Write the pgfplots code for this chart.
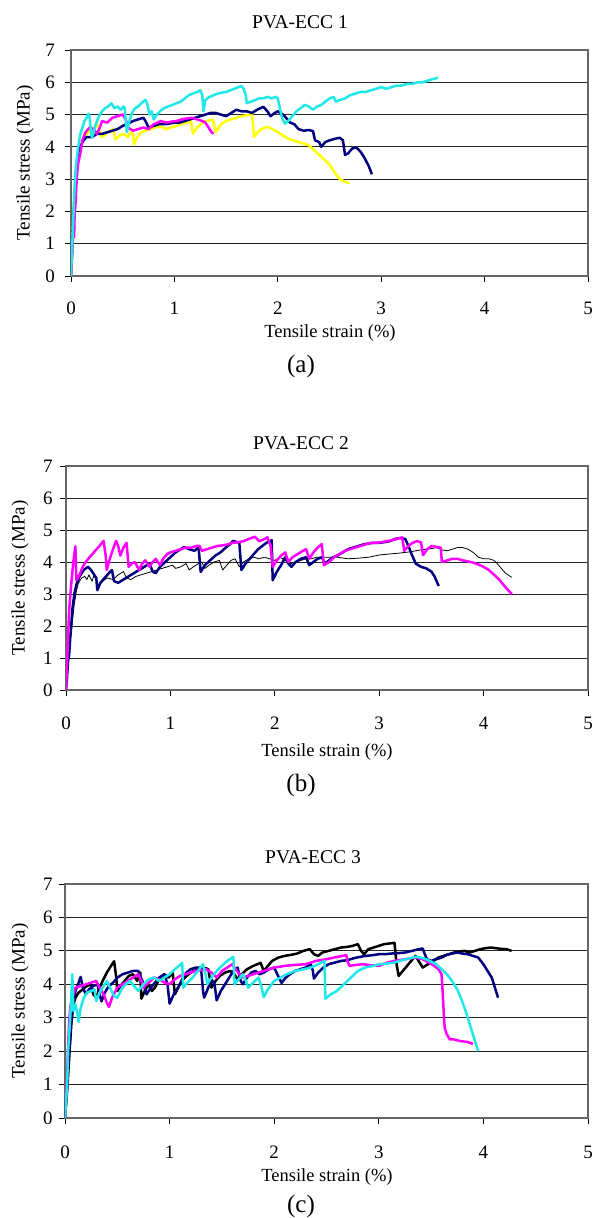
\documentclass[border=0pt]{standalone}
\usepackage{fontspec}
\setmainfont{Liberation Serif}
\usepackage{pgfplots}
\pgfplotsset{compat=1.18}
\definecolor{navyc}{HTML}{000080}
\definecolor{magc}{HTML}{FF00FF}
\definecolor{yelc}{HTML}{FFFF00}
\definecolor{cyac}{HTML}{20E8E8}
\newcommand\fs[1]{\fontsize{#1}{#1}\selectfont}

\pgfplotsset{
  ecc/.style={
    scale only axis,
    anchor=south west,
    xmin=0, xmax=5, ymin=0, ymax=7,
    xtick={0,1,2,3,4,5}, ytick={0,1,2,3,4,5,6,7},
    ymajorgrids,
    grid style={black!85, line width=0.9pt},
    axis line style={black!60, line width=1.3pt},
    tick align=outside,
    xtick pos=left, ytick pos=left,
    major tick length=6pt,
    tick style={black, line width=0.9pt},
    /pgf/number format/assume math mode=true,
    tick label style={font=\fs{19}},
    xticklabel style={anchor=center, yshift=-26pt},
    yticklabel style={anchor=center, xshift=-13pt},
    every axis plot/.append style={line width=2.5pt, line join=round},
  },
}

\begin{document}
\begin{tikzpicture}[x=1pt,y=1pt]
\useasboundingbox (0,0) rectangle (598,1218);

% ---------------- (a) ----------------
\begin{axis}[ecc, at={(71pt,942pt)}, width=517pt, height=226pt,
  yticklabel style={xshift=-2pt}]
\addplot[yelc] coordinates {
(0,0) (0.01,0.8) (0.02,1.6) (0.03,2.4) (0.05,3.2) (0.07,3.7) (0.1,4.1) (0.14,4.35) (0.18,4.5) (0.22,4.6) (0.26,4.67) (0.28,4.45) (0.3,4.3) (0.34,4.4) (0.38,4.5) (0.41,4.55) (0.43,4.23) (0.47,4.35) (0.51,4.4) (0.55,4.3) (0.58,4.45) (0.6,4.4) (0.61,4.08) (0.64,4.3) (0.68,4.45) (0.72,4.5) (0.77,4.55) (0.82,4.6) (0.87,4.62) (0.92,4.55) (0.97,4.6) (1.02,4.65) (1.07,4.7) (1.12,4.75) (1.16,4.8) (1.17,4.6) (1.18,4.41) (1.22,4.6) (1.27,4.75) (1.32,4.8) (1.37,4.85) (1.39,4.6) (1.4,4.45) (1.45,4.7) (1.5,4.8) (1.55,4.85) (1.6,4.9) (1.65,4.95) (1.7,4.98) (1.75,5.0) (1.76,4.7) (1.77,4.31) (1.82,4.5) (1.86,4.58) (1.9,4.62) (1.95,4.55) (2.0,4.45) (2.05,4.35) (2.1,4.25) (2.15,4.2) (2.2,4.15) (2.25,4.1) (2.3,4.05) (2.35,3.9) (2.4,3.75) (2.45,3.6) (2.5,3.45) (2.55,3.2) (2.6,3.0) (2.65,2.92) (2.69,2.87)
};
\addplot[navyc] coordinates {
(0,0) (0.01,0.7) (0.02,1.5) (0.03,2.2) (0.04,2.8) (0.05,3.3) (0.07,3.7) (0.09,4.0) (0.12,4.2) (0.15,4.3) (0.2,4.3) (0.25,4.4) (0.3,4.4) (0.35,4.45) (0.4,4.5) (0.45,4.55) (0.5,4.65) (0.55,4.72) (0.6,4.8) (0.65,4.85) (0.7,4.9) (0.72,4.8) (0.75,4.6) (0.8,4.65) (0.85,4.7) (0.9,4.7) (0.95,4.72) (1.0,4.75) (1.05,4.75) (1.1,4.8) (1.15,4.85) (1.2,4.9) (1.25,4.95) (1.3,5.0) (1.35,5.05) (1.4,5.05) (1.45,5.0) (1.5,4.95) (1.55,5.05) (1.6,5.15) (1.65,5.1) (1.7,5.1) (1.75,5.05) (1.8,5.15) (1.86,5.24) (1.9,5.1) (1.93,4.95) (1.97,5.05) (2.0,5.1) (2.05,5.0) (2.08,4.9) (2.12,4.75) (2.16,4.7) (2.2,4.55) (2.25,4.5) (2.3,4.52) (2.34,4.49) (2.36,4.2) (2.4,4.15) (2.42,4.0) (2.46,4.15) (2.5,4.2) (2.55,4.25) (2.6,4.28) (2.63,4.2) (2.65,3.75) (2.68,3.8) (2.72,3.95) (2.76,3.98) (2.8,3.85) (2.84,3.65) (2.88,3.4) (2.91,3.15)
};
\addplot[magc] coordinates {
(0,0) (0.01,0.6) (0.02,1.3) (0.03,1.2) (0.035,1.9) (0.045,2.3) (0.05,2.7) (0.06,3.2) (0.07,3.5) (0.09,3.8) (0.11,4.2) (0.14,4.45) (0.18,4.6) (0.22,4.55) (0.25,4.4) (0.28,4.6) (0.3,4.8) (0.35,4.75) (0.4,4.9) (0.45,4.95) (0.5,5.0) (0.53,4.85) (0.55,4.6) (0.6,4.5) (0.65,4.55) (0.7,4.6) (0.75,4.55) (0.8,4.7) (0.87,4.8) (0.92,4.75) (0.97,4.78) (1.02,4.8) (1.07,4.85) (1.12,4.88) (1.17,4.9) (1.22,4.85) (1.27,4.8) (1.3,4.75) (1.33,4.6) (1.36,4.45) (1.38,4.41)
};
\addplot[cyac] coordinates {
(0,0) (0.01,0.8) (0.02,1.6) (0.03,2.4) (0.04,3.0) (0.05,3.5) (0.07,4.0) (0.09,4.4) (0.11,4.6) (0.13,4.8) (0.15,4.9) (0.17,5.03) (0.18,4.9) (0.19,4.6) (0.2,4.3) (0.21,4.35) (0.24,4.7) (0.27,4.95) (0.3,5.1) (0.33,5.2) (0.36,5.25) (0.39,5.35) (0.42,5.2) (0.45,5.25) (0.48,5.15) (0.51,5.25) (0.52,5.2) (0.53,4.8) (0.54,4.46) (0.56,4.75) (0.59,5.05) (0.62,5.2) (0.65,5.25) (0.68,5.35) (0.72,5.46) (0.74,5.3) (0.76,5.0) (0.78,5.1) (0.8,4.85) (0.83,5.0) (0.86,5.1) (0.9,5.2) (0.94,5.25) (0.98,5.3) (1.02,5.35) (1.06,5.4) (1.1,5.5) (1.14,5.6) (1.18,5.65) (1.22,5.7) (1.25,5.75) (1.27,5.6) (1.28,5.1) (1.3,5.45) (1.34,5.55) (1.38,5.6) (1.42,5.65) (1.46,5.68) (1.5,5.7) (1.54,5.75) (1.58,5.8) (1.62,5.85) (1.65,5.88) (1.67,5.8) (1.69,5.6) (1.7,5.35) (1.74,5.4) (1.78,5.45) (1.82,5.5) (1.86,5.5) (1.9,5.55) (1.94,5.5) (1.98,5.55) (2.0,5.5) (2.02,5.2) (2.04,4.9) (2.07,4.72) (2.1,4.8) (2.14,4.95) (2.18,5.1) (2.22,5.2) (2.26,5.3) (2.3,5.25) (2.34,5.15) (2.38,5.25) (2.42,5.3) (2.46,5.4) (2.5,5.5) (2.54,5.55) (2.56,5.4) (2.6,5.45) (2.65,5.5) (2.7,5.6) (2.75,5.65) (2.8,5.7) (2.85,5.7) (2.9,5.75) (2.95,5.8) (3.0,5.85) (3.05,5.8) (3.1,5.85) (3.15,5.9) (3.2,5.9) (3.25,5.95) (3.3,5.95) (3.35,6.0) (3.4,6.0) (3.45,6.05) (3.5,6.1) (3.55,6.14)
};
\end{axis}

% ---------------- (b) ----------------
\begin{axis}[ecc, at={(66pt,528pt)}, width=522pt, height=224pt,
  xticklabel style={yshift=-1pt}, yticklabel style={xshift=1pt}]
\addplot[black, line width=0.8pt] coordinates {
(0,0) (0.01,0.5) (0.02,1.0) (0.04,1.5) (0.06,2.1) (0.08,2.7) (0.1,3.1) (0.12,3.35) (0.15,3.5) (0.18,3.55) (0.2,3.45) (0.22,3.6) (0.25,3.4) (0.27,3.6) (0.29,3.45) (0.3,3.1) (0.33,3.35) (0.37,3.45) (0.4,3.5) (0.45,3.45) (0.5,3.6) (0.55,3.7) (0.58,3.5) (0.62,3.45) (0.67,3.55) (0.72,3.6) (0.77,3.65) (0.82,3.7) (0.87,3.75) (0.92,3.8) (0.97,3.85) (1.02,3.9) (1.05,3.8) (1.1,3.85) (1.15,3.95) (1.18,3.75) (1.22,3.85) (1.27,3.95) (1.3,4.0) (1.33,3.8) (1.37,3.9) (1.42,4.0) (1.47,4.05) (1.5,3.75) (1.54,3.9) (1.58,4.05) (1.62,4.1) (1.66,3.85) (1.7,4.0) (1.75,4.1) (1.8,4.15) (1.85,4.1) (1.9,4.15) (1.95,4.1) (2.0,4.05) (2.05,4.15) (2.1,4.05) (2.15,3.95) (2.2,4.0) (2.25,4.05) (2.3,4.1) (2.35,4.1) (2.4,4.15) (2.5,4.15) (2.6,4.15) (2.7,4.1) (2.8,4.12) (2.9,4.15) (3.0,4.22) (3.1,4.25) (3.2,4.28) (3.3,4.32) (3.4,4.38) (3.5,4.42) (3.55,4.45) (3.6,4.38) (3.65,4.35) (3.7,4.4) (3.75,4.45) (3.8,4.45) (3.85,4.4) (3.9,4.3) (3.95,4.15) (4.0,4.1) (4.05,4.1) (4.1,4.05) (4.13,3.95) (4.17,3.8) (4.21,3.65) (4.27,3.52)
};
\addplot[navyc] coordinates {
(0,0) (0.01,0.4) (0.02,0.9) (0.03,1.1) (0.04,1.6) (0.05,2.0) (0.06,2.5) (0.08,3.0) (0.1,3.3) (0.13,3.55) (0.17,3.75) (0.21,3.85) (0.24,3.75) (0.27,3.6) (0.29,3.5) (0.3,3.12) (0.33,3.35) (0.37,3.5) (0.41,3.65) (0.44,3.75) (0.46,3.4) (0.5,3.35) (0.55,3.45) (0.6,3.55) (0.65,3.65) (0.7,3.75) (0.75,3.85) (0.8,3.95) (0.83,3.7) (0.86,3.65) (0.9,3.85) (0.95,4.0) (1.0,4.15) (1.05,4.3) (1.1,4.4) (1.13,4.47) (1.18,4.4) (1.23,4.35) (1.27,4.45) (1.29,3.69) (1.33,3.9) (1.38,4.05) (1.43,4.2) (1.48,4.3) (1.53,4.45) (1.57,4.55) (1.6,4.66) (1.64,4.62) (1.66,4.6) (1.68,3.75) (1.72,3.95) (1.76,4.1) (1.8,4.25) (1.84,4.4) (1.88,4.5) (1.92,4.6) (1.97,4.68) (1.98,3.43) (2.02,3.7) (2.06,3.9) (2.1,4.15) (2.13,3.95) (2.16,3.85) (2.2,4.0) (2.25,4.1) (2.3,4.15) (2.33,3.9) (2.37,4.0) (2.41,4.1) (2.45,4.15) (2.48,3.95) (2.52,4.05) (2.56,4.15) (2.6,4.2) (2.65,4.3) (2.7,4.4) (2.75,4.45) (2.8,4.5) (2.85,4.55) (2.9,4.58) (2.95,4.6) (3.0,4.6) (3.05,4.62) (3.1,4.65) (3.15,4.72) (3.2,4.75) (3.25,4.72) (3.28,4.5) (3.31,4.25) (3.35,3.95) (3.4,3.85) (3.45,3.8) (3.5,3.7) (3.53,3.55) (3.55,3.4) (3.57,3.25)
};
\addplot[magc] coordinates {
(0,0) (0.01,0.8) (0.02,1.6) (0.03,2.5) (0.05,3.3) (0.07,4.0) (0.09,4.49) (0.1,3.43) (0.13,3.6) (0.16,3.85) (0.2,4.05) (0.24,4.2) (0.28,4.35) (0.32,4.5) (0.36,4.66) (0.38,4.2) (0.39,3.75) (0.42,4.1) (0.45,4.4) (0.48,4.66) (0.5,4.5) (0.52,4.2) (0.55,4.45) (0.58,4.6) (0.6,3.85) (0.63,3.95) (0.66,4.0) (0.7,3.75) (0.73,3.95) (0.76,4.05) (0.8,3.85) (0.83,4.0) (0.86,4.1) (0.9,3.9) (0.93,4.1) (0.97,4.25) (1.0,4.3) (1.05,4.35) (1.1,4.4) (1.15,4.45) (1.2,4.45) (1.25,4.5) (1.28,4.5) (1.3,4.35) (1.35,4.4) (1.4,4.45) (1.45,4.5) (1.5,4.52) (1.55,4.55) (1.6,4.6) (1.65,4.62) (1.7,4.65) (1.75,4.72) (1.81,4.79) (1.85,4.65) (1.89,4.7) (1.93,4.77) (1.96,4.5) (1.98,3.85) (2.02,4.05) (2.06,4.2) (2.1,4.3) (2.13,4.0) (2.17,4.15) (2.22,4.25) (2.27,4.35) (2.3,4.4) (2.33,4.1) (2.37,4.3) (2.41,4.45) (2.45,4.56) (2.47,3.9) (2.52,4.0) (2.57,4.15) (2.62,4.25) (2.67,4.35) (2.72,4.4) (2.77,4.45) (2.82,4.5) (2.87,4.55) (2.92,4.6) (2.97,4.6) (3.02,4.62) (3.07,4.65) (3.12,4.68) (3.17,4.72) (3.22,4.77) (3.24,4.35) (3.28,4.5) (3.32,4.6) (3.36,4.65) (3.4,4.62) (3.42,4.21) (3.46,4.4) (3.5,4.5) (3.55,4.47) (3.59,4.45) (3.6,4.0) (3.65,4.05) (3.7,4.1) (3.75,4.1) (3.8,4.05) (3.85,4.02) (3.9,3.98) (3.95,3.92) (4.0,3.85) (4.05,3.75) (4.1,3.6) (4.15,3.45) (4.2,3.25) (4.24,3.1) (4.27,3.0)
};
\end{axis}

% ---------------- (c) ----------------
\begin{axis}[ecc, at={(65pt,100pt)}, width=523pt, height=234pt,
  xticklabel style={yshift=-2pt}, yticklabel style={xshift=2pt}]
\addplot[black] coordinates {
(0,0) (0.02,0.8) (0.04,1.8) (0.06,2.8) (0.08,3.4) (0.1,3.6) (0.13,3.75) (0.17,3.85) (0.21,3.95) (0.25,4.0) (0.27,3.7) (0.3,3.6) (0.33,3.9) (0.36,4.1) (0.4,4.35) (0.44,4.55) (0.47,4.69) (0.49,4.2) (0.5,3.8) (0.53,3.95) (0.57,4.1) (0.61,4.25) (0.65,4.3) (0.69,4.1) (0.72,4.35) (0.73,3.57) (0.77,3.85) (0.8,4.0) (0.83,3.8) (0.86,3.9) (0.9,4.15) (0.95,4.3) (0.99,4.2) (1.03,4.35) (1.05,3.7) (1.09,3.95) (1.13,4.15) (1.18,4.3) (1.23,4.4) (1.28,4.45) (1.33,4.5) (1.37,4.45) (1.4,3.9) (1.44,4.1) (1.48,4.25) (1.53,4.35) (1.58,4.4) (1.62,4.3) (1.65,4.15) (1.69,4.3) (1.74,4.45) (1.8,4.55) (1.87,4.64) (1.9,4.4) (1.94,4.55) (1.98,4.7) (2.04,4.8) (2.1,4.85) (2.16,4.88) (2.22,4.92) (2.28,5.0) (2.34,5.05) (2.38,4.9) (2.42,4.85) (2.46,4.95) (2.52,5.0) (2.58,5.05) (2.64,5.1) (2.7,5.12) (2.75,5.15) (2.8,5.2) (2.83,5.0) (2.86,4.9) (2.9,5.05) (2.95,5.1) (3.0,5.15) (3.05,5.2) (3.1,5.22) (3.15,5.24) (3.17,4.6) (3.19,4.25) (3.23,4.4) (3.27,4.55) (3.31,4.7) (3.35,4.85) (3.38,4.7) (3.42,4.5) (3.47,4.6) (3.52,4.7) (3.57,4.8) (3.62,4.85) (3.67,4.9) (3.72,4.95) (3.77,4.98) (3.82,5.0) (3.87,4.95) (3.92,5.0) (3.97,5.05) (4.02,5.08) (4.07,5.1) (4.12,5.08) (4.17,5.06) (4.22,5.05) (4.27,5.0)
};
\addplot[navyc] coordinates {
(0,0) (0.02,1.0) (0.04,2.0) (0.06,2.9) (0.08,3.5) (0.1,3.8) (0.13,4.05) (0.15,4.22) (0.17,3.9) (0.2,3.7) (0.23,3.85) (0.27,3.95) (0.31,4.0) (0.33,3.7) (0.35,3.49) (0.38,3.75) (0.42,3.95) (0.46,4.05) (0.5,4.2) (0.55,4.3) (0.6,4.35) (0.65,4.4) (0.7,4.4) (0.74,4.1) (0.78,3.7) (0.82,3.9) (0.86,4.05) (0.9,4.2) (0.95,4.3) (0.98,4.0) (1.0,3.42) (1.04,3.7) (1.08,3.9) (1.12,4.15) (1.16,4.35) (1.2,4.45) (1.25,4.5) (1.3,4.5) (1.32,3.8) (1.33,3.6) (1.37,3.9) (1.4,4.15) (1.43,4.0) (1.45,3.52) (1.49,3.8) (1.53,4.0) (1.57,4.2) (1.61,4.4) (1.65,4.5) (1.68,4.1) (1.7,4.0) (1.74,4.2) (1.78,4.35) (1.82,4.4) (1.86,4.3) (1.9,4.35) (1.95,4.45) (2.0,4.5) (2.03,4.3) (2.07,4.04) (2.11,4.2) (2.15,4.3) (2.2,4.4) (2.25,4.45) (2.3,4.5) (2.35,4.6) (2.37,4.4) (2.38,4.17) (2.42,4.35) (2.47,4.5) (2.52,4.6) (2.58,4.65) (2.64,4.7) (2.7,4.72) (2.76,4.78) (2.82,4.82) (2.88,4.85) (2.94,4.87) (3.0,4.9) (3.06,4.9) (3.12,4.92) (3.18,4.93) (3.25,4.95) (3.32,5.0) (3.38,5.05) (3.42,5.07) (3.44,4.9) (3.46,4.75) (3.5,4.7) (3.55,4.75) (3.6,4.8) (3.65,4.88) (3.7,4.92) (3.75,4.95) (3.8,4.92) (3.85,4.9) (3.9,4.85) (3.95,4.8) (4.0,4.6) (4.04,4.4) (4.08,4.2) (4.11,3.9) (4.14,3.6)
};
\addplot[magc] coordinates {
(0,0) (0.02,1.2) (0.03,2.2) (0.04,2.9) (0.05,3.3) (0.07,3.6) (0.1,3.9) (0.15,3.95) (0.2,4.0) (0.25,4.05) (0.3,4.1) (0.33,3.9) (0.37,3.7) (0.4,3.45) (0.42,3.32) (0.45,3.6) (0.5,3.9) (0.55,4.0) (0.6,4.1) (0.65,4.2) (0.7,4.3) (0.73,4.1) (0.75,3.9) (0.8,4.05) (0.85,4.2) (0.9,4.15) (0.95,4.05) (1.0,4.0) (1.05,4.15) (1.1,4.25) (1.15,4.3) (1.2,4.35) (1.25,4.4) (1.3,4.42) (1.35,4.45) (1.4,4.35) (1.45,4.2) (1.5,4.4) (1.55,4.5) (1.6,4.6) (1.63,4.45) (1.67,4.3) (1.7,4.2) (1.75,4.25) (1.8,4.3) (1.85,4.35) (1.9,4.4) (1.95,4.45) (2.0,4.5) (2.1,4.55) (2.2,4.58) (2.3,4.6) (2.4,4.7) (2.5,4.75) (2.6,4.82) (2.65,4.85) (2.69,4.87) (2.7,4.7) (2.72,4.55) (2.78,4.58) (2.85,4.6) (2.92,4.57) (3.0,4.55) (3.08,4.65) (3.15,4.7) (3.25,4.75) (3.35,4.8) (3.42,4.75) (3.48,4.65) (3.53,4.55) (3.57,4.45) (3.6,4.3) (3.61,3.8) (3.62,3.2) (3.63,2.7) (3.65,2.5) (3.68,2.35) (3.72,2.35) (3.78,2.3) (3.84,2.28) (3.9,2.22)
};
\addplot[cyac] coordinates {
(0,0) (0.02,1.0) (0.03,2.0) (0.05,3.0) (0.06,3.6) (0.07,4.3) (0.08,3.2) (0.1,3.4) (0.12,3.1) (0.13,2.87) (0.15,3.3) (0.18,3.6) (0.21,3.75) (0.25,3.8) (0.28,3.85) (0.3,3.5) (0.33,3.75) (0.37,3.95) (0.4,4.1) (0.43,3.9) (0.47,3.65) (0.5,3.6) (0.54,3.85) (0.58,4.0) (0.62,4.1) (0.66,3.95) (0.7,3.8) (0.75,4.0) (0.8,4.15) (0.85,4.2) (0.9,4.1) (0.95,4.2) (1.0,4.3) (1.05,4.45) (1.09,4.55) (1.12,4.64) (1.13,3.9) (1.17,4.05) (1.22,4.2) (1.27,4.4) (1.32,4.6) (1.35,4.2) (1.36,4.0) (1.4,4.2) (1.45,4.4) (1.5,4.55) (1.55,4.7) (1.61,4.82) (1.62,4.0) (1.66,4.15) (1.7,4.3) (1.73,4.1) (1.75,3.9) (1.8,4.05) (1.85,4.2) (1.88,3.9) (1.9,3.62) (1.94,3.85) (2.0,4.1) (2.06,4.2) (2.12,4.3) (2.2,4.4) (2.28,4.45) (2.35,4.5) (2.42,4.6) (2.48,4.7) (2.49,3.57) (2.54,3.7) (2.6,3.8) (2.65,3.95) (2.7,4.1) (2.75,4.25) (2.8,4.4) (2.87,4.5) (2.95,4.55) (3.0,4.6) (3.08,4.62) (3.15,4.65) (3.22,4.72) (3.3,4.78) (3.35,4.82) (3.4,4.8) (3.45,4.75) (3.5,4.68) (3.55,4.6) (3.6,4.45) (3.65,4.3) (3.7,4.1) (3.75,3.85) (3.79,3.55) (3.83,3.2) (3.87,2.8) (3.9,2.5) (3.93,2.2) (3.95,2.0)
};
\end{axis}

% titles and labels
\node[font=\fs{19.5}] at (300,1196) {PVA-ECC 1};
\node[font=\fs{19}, rotate=90] at (25,1055) {Tensile stress (MPa)};
\node[font=\fs{18.5}] at (330,885) {Tensile strain (\%)};
\node[font=\fs{25}] at (301,852) {(a)};

\node[font=\fs{19.5}] at (301,775) {PVA-ECC 2};
\node[font=\fs{19}, rotate=90] at (20,640) {Tensile stress (MPa)};
\node[font=\fs{18.5}] at (327,466) {Tensile strain (\%)};
\node[font=\fs{25}] at (301,433) {(b)};

\node[font=\fs{19.5}] at (313,361) {PVA-ECC 3};
\node[font=\fs{19}, rotate=90] at (20,217) {Tensile stress (MPa)};
\node[font=\fs{18.5}] at (327,41) {Tensile strain (\%)};
\node[font=\fs{25}] at (301,12) {(c)};
\end{tikzpicture}
\end{document}
